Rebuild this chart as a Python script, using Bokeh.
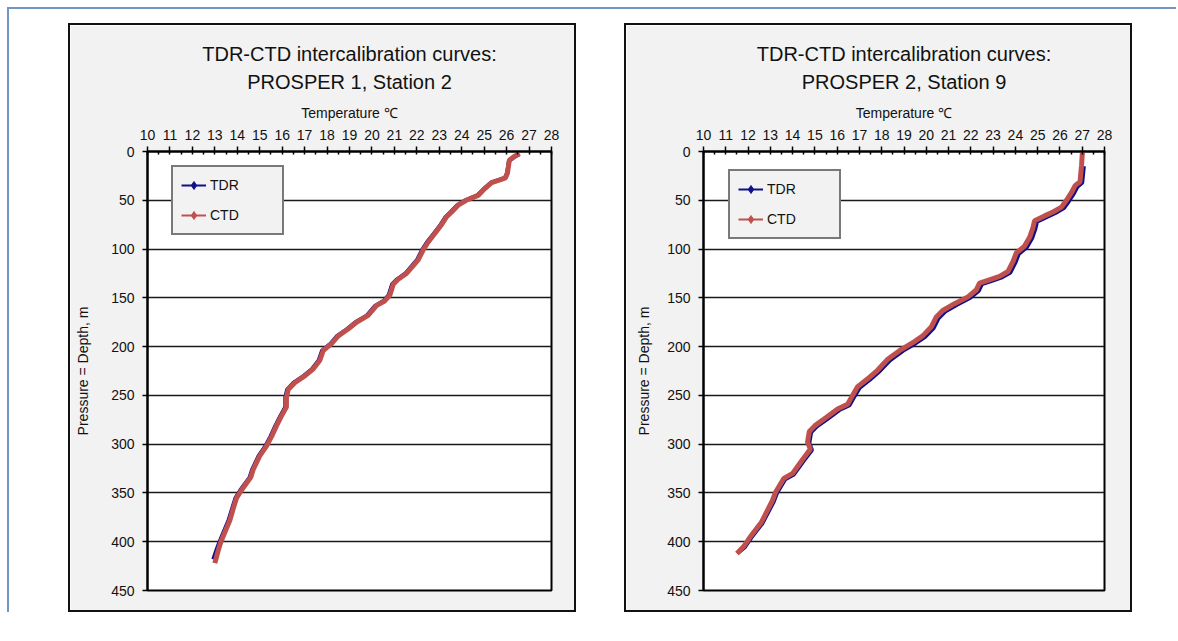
from bokeh.plotting import figure
from bokeh.models import (Range1d, Legend, LegendItem, FixedTicker, Spacer, Title)
from bokeh.layouts import row, column
from bokeh.embed import file_html
from bokeh.resources import INLINE

# ---------------- data ----------------
st2_ctd_temp = [26.58, 26.34, 26.12, 26.04, 25.95, 25.70, 25.33, 25.03, 24.73, 24.20, 23.84, 23.55,
                23.32, 23.10, 22.80, 22.50, 22.28, 22.06, 21.84, 21.54, 21.17, 20.95, 20.80, 20.58,
                20.20, 19.83, 19.31, 18.94, 18.50, 18.20, 17.83, 17.68, 17.38, 17.01, 16.56, 16.27,
                16.19, 16.19, 15.97, 15.75, 15.53, 15.30, 15.00, 14.71, 14.60, 14.19, 13.97, 13.82,
                13.67, 13.45, 13.27, 13.15, 13.00]
st2_ctd_depth = [2, 5, 9, 22, 27, 29, 32, 38, 45, 50, 55, 62,
                 67, 75, 84, 93, 101, 111, 117, 125, 131, 136, 147, 153,
                 158, 168, 175, 182, 189, 197, 204, 214, 223, 230, 237, 244,
                 252, 262, 271, 281, 292, 302, 312, 326, 334, 347, 355, 366,
                 378, 390, 400, 409, 422]
st2_tdr_temp = [26.55, 26.32, 26.10, 26.02, 25.92, 25.66, 25.30, 25.00, 24.69, 24.16, 23.80, 23.51,
                23.28, 23.06, 22.76, 22.45, 22.23, 22.01, 21.79, 21.49, 21.12, 20.90, 20.75, 20.53,
                20.15, 19.78, 19.26, 18.89, 18.45, 18.15, 17.78, 17.63, 17.33, 16.96, 16.51, 16.22,
                16.14, 16.14, 15.92, 15.70, 15.48, 15.25, 14.95, 14.66, 14.55, 14.14, 13.92, 13.77,
                13.61, 13.39, 13.21, 13.08, 12.93]
st2_tdr_depth = [3, 6, 10, 22, 27, 29, 32, 38, 45, 50, 55, 62,
                 67, 75, 84, 93, 101, 111, 117, 125, 131, 136, 147, 153,
                 158, 168, 175, 182, 189, 197, 204, 214, 223, 230, 237, 244,
                 252, 262, 271, 281, 292, 302, 312, 326, 334, 347, 355, 366,
                 378, 390, 400, 408, 418]

st9_ctd_temp = [27.01, 26.97, 26.90, 26.68, 26.52, 26.29, 26.07, 25.69, 25.31, 24.86, 24.79, 24.64,
                24.41, 24.04, 23.89, 23.67, 23.29, 22.77, 22.39, 22.24, 21.87, 21.27, 20.74, 20.44,
                20.22, 19.84, 19.39, 18.87, 18.27, 17.82, 17.37, 16.92, 16.69, 16.47, 16.02, 15.49,
                15.00, 14.75, 14.67, 14.80, 14.44, 14.00, 13.61, 13.24, 13.09, 12.60, 12.10, 11.80,
                11.50]
st9_ctd_depth = [0, 14, 31, 35, 42, 50, 57, 62, 66, 71, 78, 88,
                 97, 104, 113, 123, 128, 132, 135, 142, 149, 156, 163, 170,
                 180, 189, 196, 203, 213, 224, 233, 241, 250, 259, 264, 273,
                 281, 287, 298, 305, 316, 330, 335, 349, 358, 380, 395, 405,
                 412]
st9_tdr_temp = [27.08, 27.07, 27.00, 26.79, 26.63, 26.40, 26.18, 25.80, 25.42, 24.97, 24.90, 24.75,
                24.52, 24.15, 24.00, 23.78, 23.40, 22.88, 22.50, 22.35, 21.98, 21.38, 20.85, 20.55,
                20.33, 19.95, 19.50, 18.97, 18.37, 17.92, 17.47, 17.02, 16.78, 16.56, 16.10, 15.57,
                15.08, 14.83, 14.75, 14.87, 14.50, 14.06, 13.67, 13.30, 13.15, 12.65, 12.14, 11.84,
                11.52]
st9_tdr_depth = [15, 16, 32, 36, 43, 51, 58, 63, 67, 72, 79, 89,
                 98, 105, 114, 124, 129, 133, 136, 143, 150, 157, 164, 171,
                 181, 190, 197, 204, 214, 225, 234, 242, 251, 260, 265, 274,
                 282, 288, 299, 306, 317, 331, 336, 350, 359, 381, 396, 406,
                 412]

temp_ticks = list(range(10, 29))
depth_ticks = list(range(0, 451, 50))
series_names = ["TDR", "CTD"]
series_colors = ["#10108a", "#c0504d"]

FONT = "Liberation Sans"


def make_chart(title_lines, ctd_t, ctd_d, tdr_t, tdr_d, right_border,
               ylabel_standoff, legend_loc):
    p = figure(width=508, height=589, output_backend="svg", toolbar_location=None,
               title=None,
               x_range=Range1d(10, 28), y_range=Range1d(450, 0),
               x_axis_location="above",
               min_border_left=77, min_border_right=right_border,
               min_border_top=126, min_border_bottom=24,
               border_fill_color="#f2f2f2", background_fill_color="white",
               outline_line_color="black", outline_line_width=2,
               styles={"border": "2px solid #111111", "box-sizing": "border-box"})

    # two-line title, each line centred
    p.add_layout(Title(text=title_lines[1], align="center", vertical_align="top",
                       text_font=FONT, text_font_size="20px", text_font_style="normal",
                       text_color="#111111", standoff=13), "above")
    p.add_layout(Title(text=title_lines[0], align="center", vertical_align="bottom",
                       text_font=FONT, text_font_size="20px", text_font_style="normal",
                       text_color="#111111", standoff=0), "above")

    # axes
    xa = p.xaxis[0]
    xa.ticker = FixedTicker(ticks=temp_ticks,
                            minor_ticks=[t + 0.5 for t in temp_ticks[:-1]])
    xa.axis_label = "Temperature \u2103"
    ya = p.yaxis[0]
    ya.ticker = FixedTicker(ticks=depth_ticks)
    ya.axis_label = "Pressure = Depth, m"
    for ax in (xa, ya):
        ax.axis_line_color = "black"
        ax.axis_line_width = 2
        ax.major_tick_line_color = "black"
        ax.major_tick_line_width = 1.5
        ax.minor_tick_line_color = "black"
        ax.minor_tick_line_width = 1.5
        ax.major_label_text_font = FONT
        ax.major_label_text_font_size = "14px"
        ax.major_label_text_color = "#111111"
        ax.axis_label_text_font = FONT
        ax.axis_label_text_font_size = "14px"
        ax.axis_label_text_font_style = "normal"
        ax.axis_label_text_color = "#111111"
    xa.major_tick_out = 5
    xa.major_tick_in = 3
    xa.minor_tick_out = 0
    xa.minor_tick_in = 3
    xa.major_label_standoff = 7
    xa.axis_label_standoff = 6
    ya.major_tick_out = 5
    ya.major_tick_in = 0
    ya.minor_tick_out = 0
    ya.minor_tick_in = 0
    ya.major_label_standoff = 8
    ya.axis_label_standoff = ylabel_standoff

    p.xgrid.visible = False
    p.ygrid.grid_line_color = "#1a1a1a"
    p.ygrid.grid_line_width = 1.5
    p.ygrid.ticker = FixedTicker(ticks=depth_ticks)

    # data lines
    p.line(tdr_t, tdr_d, line_color=series_colors[0], line_width=4)
    p.line(ctd_t, ctd_d, line_color=series_colors[1], line_width=5)

    # legend glyphs (thin line with small marker, like the original); no visible data
    nan = float("nan")
    items = []
    for name, col in zip(series_names, series_colors):
        lr = p.line(x=[nan], y=[nan], line_color=col, line_width=2)
        sr = p.scatter(x=[nan], y=[nan], marker="diamond", size=5, fill_color=col, line_color=col)
        items.append(LegendItem(label=name, renderers=[lr, sr]))
    lg = Legend(items=items, location=legend_loc,
                label_text_font=FONT, label_text_font_size="14px", label_text_color="#111111",
                glyph_width=25, glyph_height=20, label_height=20, label_width=64,
                label_standoff=4, spacing=10, padding=8, margin=0,
                background_fill_color="#f2f2f2", background_fill_alpha=1,
                border_line_color="black", border_line_width=2)
    p.add_layout(lg, "center")
    return p


p1 = make_chart(["TDR-CTD intercalibration curves:", "PROSPER 1, Station 2"],
                st2_ctd_temp, st2_ctd_depth, st2_tdr_temp, st2_tdr_depth,
                27, 17, (24, 355))
p2 = make_chart(["TDR-CTD intercalibration curves:", "PROSPER 2, Station 9"],
                st9_ctd_temp, st9_ctd_depth, st9_tdr_temp, st9_tdr_depth,
                30, 12, (25, 351))

inner = column(
    Spacer(height=14),
    row(Spacer(width=59), p1, Spacer(width=48), p2, Spacer(width=44)),
    styles={"border-top": "2px solid #7396c8", "border-left": "2px solid #7396c8"},
)
layout = column(Spacer(height=7), row(Spacer(width=7), inner))

open("out.html", "w").write(file_html(layout, INLINE))
